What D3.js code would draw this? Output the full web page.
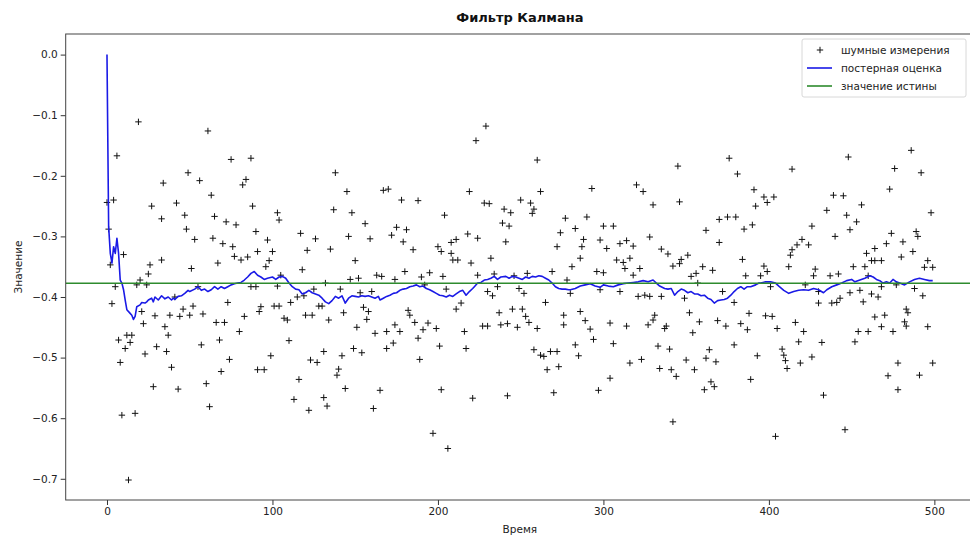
<!DOCTYPE html>
<html>
<head>
<meta charset="utf-8">
<script src="https://cdn.jsdelivr.net/npm/d3@7"></script>
<style>
	body { margin: 0; background: #fff; }
	svg { display: block; font-family: "DejaVu Sans", sans-serif; }
</style>
</head>
<body>
<script>
const titleText = 'Фильтр Калмана';
const xLabel = 'Время';
const yLabel = 'Значение';
const legendLabels = ['шумные измерения', 'постерная оценка', 'значение истины'];

const truthValue = -0.37727;
const xTicks = [0, 100, 200, 300, 400, 500];
const yTicks = [0, -0.1, -0.2, -0.3, -0.4, -0.5, -0.6, -0.7];

const measurements = [
	[19,-0.111],[6,-0.167],[49,-0.195],[34,-0.212],[0,-0.244],[4,-0.240],[27,-0.250],[42,-0.245],[33,-0.271],[47,-0.265],
	[1,-0.288],[48,-0.288],[10,-0.330],[2,-0.347],[33,-0.339],[26,-0.347],[25,-0.362],[20,-0.372],[5,-0.383],[18,-0.380],
	[24,-0.380],[3,-0.411],[21,-0.424],[29,-0.431],[38,-0.430],[44,-0.432],[50,-0.430],[46,-0.420],[41,-0.400],[35,-0.449],
	[22,-0.444],[37,-0.463],[7,-0.471],[12,-0.463],[15,-0.463],[11,-0.485],[14,-0.475],[30,-0.482],[23,-0.494],[36,-0.490],
	[8,-0.508],[39,-0.516],[28,-0.548],[43,-0.552],[9,-0.595],[17,-0.592],[13,-0.702],

	[51,-0.353],[61,-0.126],[75,-0.173],[87,-0.171],[56,-0.208],[84,-0.206],[82,-0.215],[63,-0.232],[88,-0.250],[65,-0.267],
	[72,-0.276],[78,-0.281],[103,-0.261],[104,-0.273],[53,-0.305],[64,-0.303],[70,-0.312],[90,-0.292],[97,-0.306],[76,-0.317],
	[77,-0.333],[81,-0.339],[85,-0.334],[67,-0.344],[91,-0.325],[100,-0.325],[98,-0.340],[96,-0.350],[55,-0.383],[87,-0.383],
	[90,-0.383],[103,-0.382],[105,-0.364],[52,-0.415],[58,-0.428],[73,-0.409],[83,-0.432],[93,-0.416],[92,-0.424],[101,-0.415],
	[104,-0.415],[107,-0.435],[66,-0.442],[71,-0.442],[80,-0.457],[68,-0.471],[57,-0.479],[74,-0.503],[99,-0.497],[69,-0.523],
	[91,-0.520],[95,-0.520],[60,-0.543],[62,-0.581],

	[138,-0.195],[145,-0.226],[137,-0.256],[148,-0.261],[117,-0.295],[126,-0.304],[146,-0.300],[156,-0.279],[159,-0.304],[121,-0.323],
	[135,-0.321],[150,-0.340],[118,-0.355],[147,-0.371],[152,-0.369],[163,-0.364],[132,-0.377],[141,-0.387],[111,-0.409],[115,-0.400],
	[119,-0.398],[125,-0.387],[128,-0.415],[130,-0.415],[153,-0.393],[160,-0.391],[155,-0.417],[158,-0.424],[109,-0.438],[120,-0.430],
	[124,-0.430],[134,-0.438],[143,-0.426],[157,-0.437],[151,-0.450],[162,-0.460],[110,-0.472],[149,-0.485],[154,-0.492],[131,-0.490],
	[123,-0.504],[127,-0.508],[142,-0.497],[140,-0.519],[139,-0.529],[116,-0.536],[144,-0.551],[113,-0.569],[131,-0.566],[133,-0.580],
	[122,-0.587],[161,-0.584],[165,-0.554],

	[167,-0.224],[170,-0.222],[178,-0.240],[188,-0.241],[204,-0.265],[219,-0.226],[172,-0.298],[175,-0.285],[181,-0.289],[179,-0.309],
	[185,-0.322],[200,-0.317],[202,-0.325],[208,-0.310],[211,-0.305],[208,-0.328],[209,-0.339],[212,-0.339],[218,-0.296],[220,-0.344],
	[166,-0.366],[174,-0.371],[180,-0.358],[190,-0.367],[195,-0.360],[203,-0.366],[192,-0.380],[205,-0.387],[214,-0.410],[211,-0.420],
	[182,-0.422],[183,-0.430],[186,-0.442],[194,-0.443],[191,-0.454],[199,-0.452],[169,-0.457],[174,-0.446],[177,-0.457],[216,-0.457],
	[173,-0.476],[169,-0.485],[188,-0.468],[201,-0.481],[217,-0.485],[189,-0.503],[202,-0.553],[221,-0.567],[197,-0.625],[206,-0.650],

	[223,-0.142],[229,-0.118],[260,-0.174],[262,-0.226],[228,-0.245],[231,-0.246],[240,-0.255],[244,-0.261],[250,-0.240],[256,-0.245],
	[258,-0.255],[257,-0.262],[239,-0.278],[243,-0.283],[277,-0.270],[224,-0.303],[241,-0.309],[274,-0.294],[272,-0.317],[232,-0.336],
	[224,-0.364],[234,-0.362],[246,-0.365],[254,-0.361],[269,-0.358],[278,-0.372],[230,-0.391],[233,-0.398],[236,-0.383],[249,-0.386],
	[252,-0.394],[280,-0.394],[265,-0.409],[237,-0.426],[245,-0.420],[251,-0.420],[253,-0.432],[276,-0.430],[227,-0.448],[230,-0.448],
	[238,-0.446],[242,-0.444],[248,-0.450],[255,-0.442],[260,-0.452],[276,-0.446],[258,-0.487],[262,-0.496],[264,-0.498],[268,-0.490],
	[272,-0.490],[266,-0.520],[273,-0.515],[242,-0.563],[270,-0.558],

	[293,-0.221],[320,-0.215],[324,-0.226],[330,-0.248],[290,-0.268],[283,-0.287],[300,-0.283],[306,-0.283],[288,-0.305],[287,-0.317],
	[298,-0.306],[302,-0.320],[310,-0.312],[314,-0.307],[318,-0.316],[328,-0.301],[335,-0.321],[281,-0.350],[286,-0.336],[308,-0.339],
	[312,-0.343],[316,-0.336],[313,-0.353],[322,-0.353],[318,-0.364],[296,-0.358],[300,-0.360],[298,-0.388],[310,-0.391],[321,-0.399],
	[325,-0.397],[328,-0.399],[335,-0.399],[286,-0.424],[289,-0.439],[292,-0.453],[304,-0.443],[314,-0.448],[327,-0.446],[331,-0.430],
	[330,-0.438],[337,-0.452],[294,-0.470],[283,-0.479],[306,-0.477],[333,-0.481],[285,-0.497],[316,-0.509],[323,-0.503],[334,-0.518],
	[304,-0.534],[297,-0.554],

	[376,-0.171],[381,-0.197],[345,-0.184],[346,-0.243],[391,-0.223],[392,-0.250],[370,-0.272],[375,-0.268],[380,-0.268],[362,-0.290],
	[385,-0.288],[390,-0.281],[370,-0.310],[339,-0.329],[342,-0.349],[346,-0.345],[347,-0.338],[351,-0.331],[384,-0.338],[353,-0.366],
	[356,-0.361],[360,-0.350],[366,-0.356],[386,-0.365],[395,-0.365],[357,-0.377],[372,-0.391],[379,-0.409],[349,-0.402],[352,-0.426],
	[358,-0.441],[369,-0.439],[374,-0.448],[383,-0.444],[387,-0.454],[388,-0.427],[354,-0.459],[338,-0.448],[340,-0.486],[364,-0.487],
	[379,-0.479],[393,-0.497],[350,-0.504],[362,-0.501],[368,-0.507],[341,-0.520],[344,-0.531],[355,-0.520],[365,-0.540],[361,-0.553],
	[367,-0.548],[389,-0.536],[342,-0.606],

	[448,-0.169],[414,-0.189],[439,-0.232],[445,-0.233],[397,-0.235],[399,-0.244],[403,-0.235],[435,-0.257],[447,-0.265],[426,-0.283],
	[449,-0.289],[440,-0.300],[420,-0.305],[417,-0.314],[424,-0.314],[413,-0.331],[414,-0.322],[412,-0.350],[397,-0.349],[399,-0.358],
	[451,-0.350],[428,-0.354],[427,-0.365],[437,-0.365],[442,-0.362],[401,-0.383],[422,-0.380],[449,-0.393],[430,-0.391],[430,-0.410],
	[438,-0.410],[441,-0.409],[443,-0.402],[398,-0.431],[402,-0.432],[405,-0.452],[416,-0.442],[421,-0.457],[418,-0.474],[432,-0.475],
	[452,-0.474],[408,-0.486],[409,-0.496],[410,-0.505],[411,-0.518],[419,-0.509],[426,-0.499],[433,-0.562],[404,-0.630],[446,-0.619],

	[486,-0.158],[476,-0.188],[492,-0.195],[473,-0.222],[498,-0.261],[456,-0.248],[453,-0.276],[474,-0.295],[489,-0.292],[490,-0.300],
	[471,-0.312],[481,-0.309],[464,-0.320],[459,-0.328],[480,-0.334],[487,-0.325],[462,-0.340],[464,-0.340],[468,-0.340],[496,-0.340],
	[458,-0.350],[494,-0.351],[499,-0.351],[460,-0.365],[477,-0.380],[468,-0.383],[488,-0.386],[455,-0.389],[462,-0.395],[466,-0.400],
	[457,-0.408],[493,-0.398],[483,-0.420],[484,-0.426],[464,-0.433],[470,-0.430],[482,-0.441],[483,-0.448],[496,-0.449],[454,-0.457],
	[460,-0.457],[468,-0.449],[475,-0.457],[478,-0.509],[499,-0.509],[472,-0.530],[491,-0.529],[478,-0.553]
];

// posterior estimate: [step, value]
const estimate = [
	[0,0.0],[1,-0.284],[2,-0.328],[3,-0.344],[4,-0.317],[5,-0.328],[6,-0.303],[7,-0.328],[8,-0.372],[9,-0.377],
	[10,-0.388],[11,-0.405],[12,-0.421],[14,-0.427],[15,-0.430],[16,-0.437],[17,-0.432],[18,-0.416],[20,-0.413],[21,-0.409],
	[23,-0.410],[24,-0.408],[25,-0.405],[27,-0.402],[28,-0.408],[29,-0.400],[31,-0.405],[33,-0.398],[35,-0.403],[37,-0.400],
	[39,-0.405],[40,-0.402],[41,-0.404],[43,-0.399],[45,-0.398],[47,-0.394],[49,-0.389],[50,-0.391],[53,-0.387],[55,-0.383],
	[57,-0.389],[59,-0.387],[61,-0.391],[63,-0.388],[65,-0.383],[67,-0.387],[69,-0.383],[71,-0.386],[73,-0.383],[75,-0.380],
	[77,-0.378],[79,-0.377],[81,-0.376],[83,-0.372],[85,-0.367],[87,-0.361],[89,-0.358],[91,-0.364],[93,-0.367],[95,-0.371],
	[97,-0.369],[100,-0.367],[102,-0.371],[104,-0.367],[106,-0.366],[108,-0.369],[110,-0.377],[112,-0.383],[114,-0.387],[116,-0.388],
	[118,-0.395],[120,-0.393],[122,-0.389],[124,-0.393],[126,-0.395],[128,-0.397],[130,-0.402],[132,-0.408],[134,-0.411],[136,-0.406],
	[138,-0.399],[140,-0.402],[142,-0.398],[144,-0.410],[146,-0.402],[148,-0.398],[150,-0.399],[152,-0.400],[154,-0.398],[156,-0.399],
	[158,-0.398],[160,-0.400],[162,-0.402],[164,-0.399],[165,-0.405],[167,-0.402],[169,-0.399],[171,-0.397],[173,-0.394],[175,-0.393],
	[177,-0.389],[179,-0.387],[181,-0.386],[183,-0.383],[185,-0.382],[187,-0.380],[189,-0.383],[191,-0.382],[193,-0.386],[195,-0.388],
	[197,-0.391],[199,-0.394],[201,-0.397],[203,-0.398],[205,-0.400],[207,-0.397],[209,-0.399],[211,-0.395],[213,-0.391],[215,-0.389],
	[217,-0.397],[219,-0.391],[221,-0.386],[222,-0.383],[224,-0.377],[226,-0.376],[228,-0.372],[230,-0.371],[232,-0.369],[234,-0.366],
	[236,-0.371],[238,-0.367],[241,-0.366],[243,-0.369],[245,-0.366],[247,-0.367],[249,-0.369],[251,-0.371],[253,-0.367],[255,-0.369],
	[257,-0.366],[259,-0.367],[261,-0.365],[263,-0.366],[265,-0.369],[267,-0.372],[269,-0.377],[271,-0.383],[273,-0.386],[275,-0.387],
	[277,-0.387],[279,-0.388],[280,-0.388],[283,-0.386],[286,-0.382],[289,-0.380],[292,-0.378],[295,-0.382],[298,-0.384],[300,-0.380],
	[303,-0.382],[306,-0.383],[309,-0.380],[312,-0.378],[315,-0.377],[318,-0.376],[321,-0.375],[324,-0.373],[327,-0.375],[330,-0.372],
	[332,-0.377],[334,-0.382],[337,-0.386],[339,-0.387],[341,-0.386],[343,-0.397],[345,-0.391],[347,-0.387],[349,-0.389],[351,-0.393],
	[353,-0.391],[355,-0.395],[357,-0.395],[359,-0.398],[361,-0.397],[363,-0.402],[365,-0.404],[367,-0.410],[369,-0.406],[371,-0.405],
	[373,-0.404],[375,-0.402],[377,-0.397],[379,-0.391],[381,-0.386],[383,-0.383],[385,-0.387],[387,-0.383],[389,-0.383],[392,-0.380],
	[394,-0.377],[395,-0.377],[398,-0.375],[401,-0.375],[404,-0.377],[406,-0.382],[409,-0.389],[412,-0.394],[415,-0.391],[418,-0.389],
	[421,-0.388],[424,-0.389],[427,-0.386],[430,-0.388],[433,-0.393],[435,-0.388],[438,-0.383],[441,-0.380],[444,-0.377],[447,-0.373],
	[450,-0.371],[452,-0.375],[455,-0.372],[458,-0.369],[461,-0.365],[463,-0.367],[465,-0.371],[467,-0.373],[469,-0.377],[471,-0.375],
	[473,-0.377],[475,-0.371],[477,-0.375],[479,-0.377],[482,-0.380],[485,-0.375],[488,-0.371],[491,-0.369],[494,-0.371],[497,-0.373],
	[499,-0.373]
];

const width = 970;
const height = 535;
const plot = { left: 65.7, right: 974, top: 34, bottom: 500 };

const svg = d3.select('body')
	.append('svg')
	.attr('width', width)
	.attr('height', height);

const xScale = d3.scaleLinear()
	.domain([-24.95, 523.95]) // matplotlib's 5% margin around 0..499
	.range([plot.left, plot.right]);

const yScale = d3.scaleLinear()
	.domain([-0.735, 0.034])
	.range([plot.bottom, plot.top]);

svg.append('clipPath').attr('id', 'clip')
	.append('rect')
	.attr('x', plot.left).attr('y', plot.top)
	.attr('width', plot.right - plot.left).attr('height', plot.bottom - plot.top);

// axes
const xAxis = svg.append('g')
	.attr('transform', 'translate(0,' + plot.bottom + ')')
	.call(d3.axisBottom(xScale).tickValues(xTicks).tickSize(5).tickPadding(3).tickFormat(d3.format('d')));

const yAxis = svg.append('g')
	.attr('transform', 'translate(' + plot.left + ',0)')
	.call(d3.axisLeft(yScale).tickValues(yTicks).tickSize(5).tickPadding(3).tickFormat(d3.format('.1f')));

[xAxis, yAxis].forEach(function(g) {
	g.select('.domain').remove();
	g.selectAll('line').attr('stroke', '#333');
	g.selectAll('text')
		.attr('fill', '#222')
		.style('font-size', '10.5px')
		.style('font-family', '"DejaVu Sans", sans-serif');
});

const data = svg.append('g').attr('clip-path', 'url(#clip)');

// noisy measurements, drawn first like plt.plot(z, 'k+')
data.selectAll('path.meas')
	.data(measurements)
	.enter()
	.append('path')
	.attr('class', 'meas')
	.attr('d', 'M-3.2,0H3.2M0,-3.2V3.2')
	.attr('stroke', '#111')
	.attr('stroke-width', 1)
	.attr('transform', function(d) { return 'translate(' + xScale(d[0]) + ',' + yScale(d[1]) + ')'; });

const line = d3.line()
	.x(function(d) { return xScale(d[0]); })
	.y(function(d) { return yScale(d[1]); });

data.append('path')
	.datum(estimate)
	.attr('d', line)
	.attr('fill', 'none')
	.attr('stroke', '#1a1ae6')
	.attr('stroke-width', 1.6)
	.attr('stroke-linejoin', 'round');

data.append('line')
	.attr('x1', plot.left).attr('x2', plot.right)
	.attr('y1', yScale(truthValue)).attr('y2', yScale(truthValue))
	.attr('stroke', '#2e8b2e')
	.attr('stroke-width', 1.6);

// frame
svg.append('rect')
	.attr('x', plot.left).attr('y', plot.top)
	.attr('width', plot.right - plot.left).attr('height', plot.bottom - plot.top)
	.attr('fill', 'none')
	.attr('stroke', '#444')
	.attr('stroke-width', 1);

// title and axis labels
svg.append('text')
	.attr('x', (plot.left + plot.right) / 2).attr('y', 22)
	.attr('text-anchor', 'middle')
	.style('font-size', '13px').style('font-weight', 'bold')
	.attr('fill', '#111')
	.text(titleText);

svg.append('text')
	.attr('x', (plot.left + plot.right) / 2).attr('y', 533)
	.attr('text-anchor', 'middle')
	.style('font-size', '10.5px')
	.attr('fill', '#222')
	.text(xLabel);

svg.append('text')
	.attr('transform', 'translate(22,' + ((plot.top + plot.bottom) / 2) + ') rotate(-90)')
	.attr('text-anchor', 'middle')
	.style('font-size', '10.5px')
	.attr('fill', '#222')
	.text(yLabel);

// legend
const legend = svg.append('g').attr('transform', 'translate(802,39)');

legend.append('rect')
	.attr('width', 164).attr('height', 58)
	.attr('rx', 2)
	.attr('fill', '#fff').attr('fill-opacity', 0.85)
	.attr('stroke', '#d8d8d8');

const rows = legend.selectAll('g.row')
	.data(legendLabels)
	.enter()
	.append('g')
	.attr('class', 'row')
	.attr('transform', function(d, i) { return 'translate(0,' + (11 + i * 18) + ')'; });

rows.each(function(d, i) {
	const row = d3.select(this);
	if (i === 0) {
		row.append('path')
			.attr('d', 'M-3.2,0H3.2M0,-3.2V3.2')
			.attr('transform', 'translate(18,0)')
			.attr('stroke', '#111');
	} else {
		row.append('line')
			.attr('x1', 5).attr('x2', 30)
			.attr('stroke', i === 1 ? '#1a1ae6' : '#2e8b2e')
			.attr('stroke-width', 1.6);
	}
	row.append('text')
		.attr('x', 39).attr('dy', '0.35em')
		.style('font-size', '10.5px')
		.attr('fill', '#222')
		.text(d);
});
</script>
</body>
</html>
